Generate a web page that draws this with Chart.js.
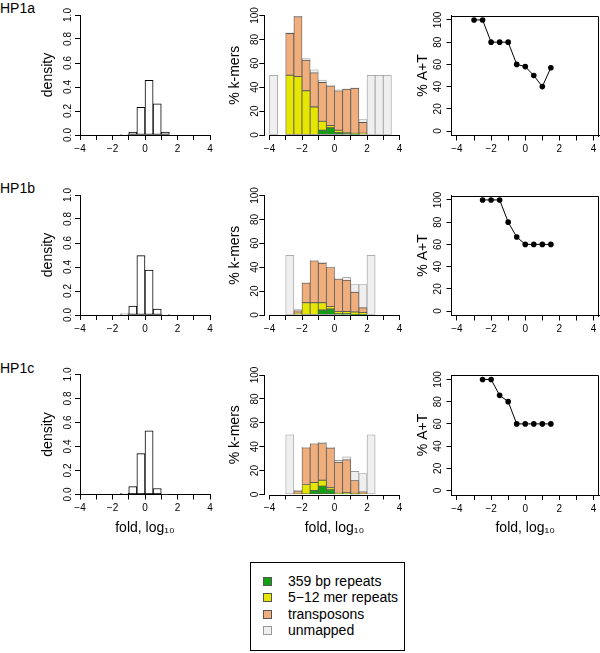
<!DOCTYPE html>
<html>
<head>
<meta charset="utf-8">
<script src="https://cdn.jsdelivr.net/npm/chart.js@4.4.1/dist/chart.umd.min.js"></script>
<style>
html, body { margin: 0; padding: 0; background: #fff; }
body { width: 600px; height: 653px; position: relative; overflow: hidden; font-family: "Liberation Sans", Arial, sans-serif; color: #000; }
canvas { position: absolute; }
.rowlab { position: absolute; left: 0; font-size: 14px; line-height: 16px; white-space: nowrap; }
#legend { position: absolute; left: 250px; top: 562px; width: 153px; height: 87px; border: 1px solid #000; background: #fff; }
.lgitem { position: absolute; left: 0; height: 16px; line-height: 16px; font-size: 14px; white-space: nowrap; }
.lgbox { position: absolute; left: 12px; top: 4px; width: 7px; height: 7px; border: 1px solid #666; }
.lgtext { position: absolute; left: 37px; top: 0; }
</style>
</head>
<body>
<div id="legend"></div>
<script>
// ---------------- DATA ----------------
const rowNames = ['HP1a', 'HP1b', 'HP1c'];
const binCenters = [-3.75, -3.25, -2.75, -2.25, -1.75, -1.25, -0.75, -0.25, 0.25, 0.75, 1.25, 1.75, 2.25, 2.75, 3.25, 3.75];
const xTicks = [-4, -3, -2, -1, 0, 1, 2, 3, 4];
const xTickLabels = ['\u22124', '', '\u22122', '', '0', '', '2', '', '4'];
const densityTicks = [0, 0.2, 0.4, 0.6, 0.8, 1.0];
const densityTickLabels = ['0.0', '0.2', '0.4', '0.6', '0.8', '1.0'];
const pctTicks = [0, 20, 40, 60, 80, 100];
const pctTickLabels = ['0', '20', '40', '60', '80', '100'];

// histogram densities per bin
const densityHP1a = [0, 0, 0, 0, 0, 0.003, 0.025, 0.23, 0.455, 0.26, 0.025, 0, 0, 0, 0, 0];
const densityHP1b = [0, 0, 0, 0, 0, 0.01, 0.075, 0.495, 0.375, 0.05, 0.003, 0, 0, 0, 0, 0];
const densityHP1c = [0, 0, 0, 0, 0, 0.01, 0.065, 0.34, 0.53, 0.05, 0.003, 0, 0, 0, 0, 0];

// % k-mers, stacked segment heights per bin
const seriesNames = ['359 bp repeats', '5\u221212 mer repeats', 'transposons', 'unmapped'];
const seriesColors = ['#12a012', '#e6e600', '#efae7c', '#efefef'];

const repeats359HP1a   = [0, 0, 0, 0, 0, 0, 4, 6, 2, 1.2, 0.7, 0, 0, 0, 0, 0];
const mer512HP1a       = [0, 0, 50, 49, 37, 23.5, 7.5, 2, 2, 1, 0.7, 1.5, 0, 0, 0, 0];
const transposonsHP1a  = [0, 0, 35, 50, 25.5, 28.5, 32.5, 33, 33, 36, 37.6, 9, 0, 0, 0, 0];
const unmappedHP1a     = [50, 0, 0.5, 0.5, 1.5, 2.5, 2, 0.8, 0.7, 0.5, 0.5, 2.5, 50, 50, 50, 0];

const repeats359HP1b   = [0, 0, 0, 0, 0, 0, 4.2, 5, 1, 1, 0.5, 0.5, 0, 0, 0, 0];
const mer512HP1b       = [0, 0, 0, 1.5, 10.3, 10.3, 6.1, 2, 1.8, 2, 2, 1.5, 0, 0, 0, 0];
const transposonsHP1b  = [0, 0, 0, 2, 16.4, 35, 33, 32.7, 27.2, 26, 16.5, 4, 0, 0, 0, 0];
const unmappedHP1b     = [0, 0, 50, 1, 0.5, 0.3, 0.9, 0.3, 0.5, 2.5, 6.5, 19.5, 50, 0, 0, 0];

const repeats359HP1c   = [0, 0, 0, 0, 0, 3.4, 7, 4, 0.5, 0.5, 0.3, 0, 0, 0, 0, 0];
const mer512HP1c       = [0, 0, 0, 0.5, 8.4, 6.6, 5, 1.6, 0.5, 1, 0.7, 0.5, 0, 0, 0, 0];
const transposonsHP1c  = [0, 0, 0, 2.5, 30.6, 32.5, 30.7, 33.2, 26, 27.5, 10.7, 1.7, 0, 0, 0, 0];
const unmappedHP1c     = [0, 0, 50, 0.5, 0.4, 0.2, 0.9, 0.6, 1.5, 2.5, 7.6, 15.4, 50, 0, 0, 0];

// % A+T
const atXHP1a = [-3, -2.5, -2, -1.5, -1, -0.5, 0, 0.5, 1, 1.5];
const atHP1a  = [100, 100, 80, 80, 80, 60, 58, 50, 40, 57];
const atXHP1b = [-2.5, -2, -1.5, -1, -0.5, 0, 0.5, 1, 1.5];
const atHP1b  = [100, 100, 100, 80, 66.7, 60, 60, 60, 60];
const atXHP1c = [-2.5, -2, -1.5, -1, -0.5, 0, 0.5, 1, 1.5];
const atHP1c  = [100, 100, 85.7, 80, 60, 60, 60, 60, 60];

const densityRows = [densityHP1a, densityHP1b, densityHP1c];
const kmerRows = [
  [repeats359HP1a, mer512HP1a, transposonsHP1a, unmappedHP1a],
  [repeats359HP1b, mer512HP1b, transposonsHP1b, unmappedHP1b],
  [repeats359HP1c, mer512HP1c, transposonsHP1c, unmappedHP1c]
];
const atRows = [[atXHP1a, atHP1a], [atXHP1b, atHP1b], [atXHP1c, atHP1c]];

// ---------------- LAYOUT ----------------
const FONT = '"Liberation Sans", Arial, sans-serif';
Chart.defaults.font.family = FONT;
Chart.defaults.color = '#000';
const TICK_FONT = 10, TITLE_FONT = 14, TL = 5;
const ROW_DY = [0, 180, 359.5];
const COLS = {
  dens: { x0: 80, x1: 210, y0: 15, y1: 135, yW: 40, titleX: 48, labelX: 68.5, xMin: -4, xMax: 4, yMin: 0, yMax: 1, title: 'density' },
  kmer: { x0: 264.3, x1: 404.7, y0: 15.5, y1: 135, yW: 38, titleX: 235, labelX: 255.5, xMin: -4.32, xMax: 4.32, yMin: 0, yMax: 100, title: '% k-mers' },
  at:   { x0: 451.5, x1: 599, y0: 15.5, y1: 135.5, yW: 37, titleX: 423, labelX: 438, xMin: -4.32, xMax: 4.32, yMin: -4, yMax: 104, title: '% A+T' }
};
const X_TITLE_Y = 528;

const measureCtx = document.createElement('canvas').getContext('2d');
function widest(labels) {
  measureCtx.font = TICK_FONT + 'px ' + FONT;
  return Math.max(...labels.map(l => measureCtx.measureText(l).width));
}

// R-style extras: axis line only between first and last tick; top/right of box
const rFrame = {
  id: 'rFrame',
  afterDraw(chart, args, opts) {
    const ctx = chart.ctx;
    const xs = chart.scales.x, ys = chart.scales.y;
    ctx.save();
    ctx.strokeStyle = '#000';
    ctx.lineWidth = 1;
    ctx.setLineDash([]);
    if (opts.box) {
      const l = Math.round(xs.left), r = Math.round(xs.right) - 0.5;
      const t = Math.round(ys.top) + 0.5, b = Math.round(ys.bottom);
      ctx.beginPath();
      ctx.moveTo(l, t); ctx.lineTo(r, t);
      ctx.moveTo(r, t); ctx.lineTo(r, b + 1);
      ctx.stroke();
    }
    if (opts.xLine) {
      const tk = xs.ticks;
      const y = Math.round(ys.bottom) + 0.5;
      ctx.beginPath();
      ctx.moveTo(Math.round(xs.getPixelForValue(tk[0].value)), y);
      ctx.lineTo(Math.round(xs.getPixelForValue(tk[tk.length - 1].value)) + 1, y);
      ctx.stroke();
    }
    ctx.restore();
  }
};

function makePanel(colKey, row, type, datasets, yTickVals, yTickLabs, frame) {
  const g = COLS[colKey];
  const dy = ROW_DY[row];
  const x0 = g.x0, x1 = g.x1, y0 = g.y0 + dy, y1 = g.y1 + dy;
  const left = Math.floor(x0 - g.yW);
  const top = Math.floor(y0 - 10);
  const xHmin = row === 2 ? 42 : 24;
  const width = Math.ceil(x1 + 10 - left);
  const height = Math.ceil(y1 + xHmin - top);
  const yAxisW = x0 - left, padTop = y0 - top, padRight = left + width - x1, xAxisH = top + height - y1;
  const lh = TITLE_FONT * 1.2;

  const cv = document.createElement('canvas');
  cv.width = width; cv.height = height;
  cv.style.left = left + 'px'; cv.style.top = top + 'px';
  cv.style.width = width + 'px'; cv.style.height = height + 'px';
  document.body.appendChild(cv);

  const yPad = x0 - TL - widest(yTickLabs) / 2 - g.labelX;
  const showXTitle = row === 2;

  const gridCfg = { display: true, drawOnChartArea: false, drawTicks: true, tickLength: TL, color: '#000', tickColor: '#000', lineWidth: 1, offset: false };

  return new Chart(cv, {
    type: type,
    data: { datasets: datasets },
    options: {
      responsive: false,
      animation: false,
      devicePixelRatio: 1,
      layout: { padding: { left: 0, top: padTop, right: padRight, bottom: 0 } },
      plugins: { legend: { display: false }, tooltip: { enabled: false }, rFrame: frame },
      scales: {
        x: {
          type: 'linear', min: g.xMin, max: g.xMax, offset: false, stacked: type === 'bar',
          grid: gridCfg,
          border: { display: !!frame.xBorder, color: '#000', width: 1 },
          afterBuildTicks: s => { s.ticks = xTicks.map(v => ({ value: v })); },
          afterFit: s => { s.height = xAxisH; },
          ticks: { autoSkip: false, maxRotation: 0, minRotation: 0, padding: 3, font: { size: TICK_FONT },
                   callback: (v, i) => xTickLabels[i] },
          title: { display: showXTitle, text: 'fold, log\u2081\u2080', font: { size: TITLE_FONT },
                   padding: { top: 0, bottom: Math.max(0, (top + height) - lh / 2 - X_TITLE_Y) } }
        },
        y: {
          type: 'linear', min: g.yMin, max: g.yMax, stacked: type === 'bar',
          grid: gridCfg,
          border: { display: !!frame.yBorder, color: '#000', width: 1 },
          afterBuildTicks: s => { s.ticks = yTickVals.map(v => ({ value: v })); },
          afterFit: s => { s.width = yAxisW; },
          ticks: { autoSkip: false, minRotation: 90, maxRotation: 90, crossAlign: 'center', padding: yPad,
                   font: { size: TICK_FONT }, callback: (v, i) => yTickLabs[i] },
          title: { display: true, text: g.title, font: { size: TITLE_FONT },
                   padding: { top: g.titleX - left - lh / 2, bottom: 0 } }
        }
      }
    },
    plugins: [rFrame]
  });
}

function pts(xs, ys) { return xs.map((x, i) => ({ x: x, y: ys[i] })); }

for (let r = 0; r < 3; r++) {
  const lab = document.createElement('div');
  lab.className = 'rowlab';
  lab.textContent = rowNames[r];
  lab.style.top = ROW_DY[r] + 'px';
  document.body.appendChild(lab);

  // density histogram
  makePanel('dens', r, 'bar', [{
    data: pts(binCenters, densityRows[r]),
    backgroundColor: '#fff', borderColor: '#000', borderWidth: 1, borderSkipped: false,
    barPercentage: 1, categoryPercentage: 1
  }], densityTicks, densityTickLabels, { xBorder: true, yBorder: true });

  // stacked k-mers
  makePanel('kmer', r, 'bar', kmerRows[r].map((vals, k) => ({
    label: seriesNames[k],
    data: pts(binCenters, vals),
    backgroundColor: seriesColors[k],
    borderColor: k === 3 ? '#9a9a9a' : '#5a5a5a',
    borderWidth: 0.8, borderSkipped: false,
    barPercentage: 1, categoryPercentage: 1
  })), pctTicks, pctTickLabels, { xLine: true, yBorder: true });

  // % A+T
  makePanel('at', r, 'line', [{
    data: pts(atRows[r][0], atRows[r][1]),
    borderColor: '#000', borderWidth: 1, backgroundColor: '#000',
    pointRadius: 2.8, pointBackgroundColor: '#000', pointBorderWidth: 0, tension: 0, fill: false
  }], pctTicks, pctTickLabels, { box: true, xBorder: true, yBorder: true });
}

// legend
const lg = document.getElementById('legend');
seriesNames.forEach((name, i) => {
  const it = document.createElement('div');
  it.className = 'lgitem';
  it.style.top = (10 + i * 16.4) + 'px';
  it.style.width = '150px';
  const b = document.createElement('div');
  b.className = 'lgbox';
  b.style.background = seriesColors[i];
  b.style.borderColor = i === 3 ? '#999' : '#555';
  const t = document.createElement('div');
  t.className = 'lgtext';
  t.textContent = name;
  it.appendChild(b); it.appendChild(t);
  lg.appendChild(it);
});
</script>
</body>
</html>
